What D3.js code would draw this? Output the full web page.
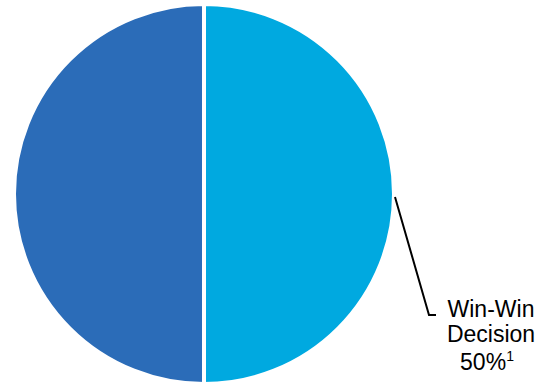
<!DOCTYPE html>
<html>
<head>
<meta charset="utf-8">
<script src="https://cdn.jsdelivr.net/npm/d3@7"></script>
<style>
html,body{margin:0;padding:0;background:#fff;}
svg{display:block;}
</style>
</head>
<body>
<svg id="chart" width="538" height="385"></svg>
<script>
const categories = ["Win-Win Decision", "Other"];
const values = [50, 50];
const colors = ["#00a9e0", "#2b6cb8"];
const labelLines = ["Win-Win", "Decision", "50%"];
const footnote = "1";

const svg = d3.select("#chart");
const cx = 204, cy = 194, r = 190;

const pie = d3.pie().sort(null).value(d => d)(values);
const arc = d3.arc().innerRadius(0).outerRadius(r);

const g = svg.append("g").attr("transform", `translate(${cx},${cy})`);
g.selectAll("path").data(pie).enter().append("path")
  .attr("d", arc)
  .attr("fill", (d, i) => colors[i])
  .attr("stroke", "#fff")
  .attr("stroke-width", 4);

// leader line for first slice
const d0 = pie[0];
const mid = (d0.startAngle + d0.endAngle) / 2;
const p0 = [cx + Math.sin(mid) * (r + 1), cy - Math.cos(mid) * (r + 1) + 3];
const elbow = [429, 315];
const end = [436, 315];
svg.append("polyline")
  .attr("points", [p0, elbow, end].map(p => p.join(",")).join(" "))
  .attr("fill", "none")
  .attr("stroke", "#000")
  .attr("stroke-width", 2);

const tx = 491;
const baselines = [317, 342, 370];
const t = svg.append("g")
  .attr("font-family", "Liberation Sans, Arial, sans-serif")
  .attr("font-size", 23)
  .attr("fill", "#000");
labelLines.forEach((s, i) => {
  const text = t.append("text")
    .attr("x", i === 2 ? tx - 4 : tx)
    .attr("y", baselines[i])
    .attr("text-anchor", "middle");
  text.append("tspan").text(s);
  if (i === 2) {
    text.append("tspan").attr("font-size", 14).attr("dy", -9).text(footnote);
  }
});
</script>
</body>
</html>
